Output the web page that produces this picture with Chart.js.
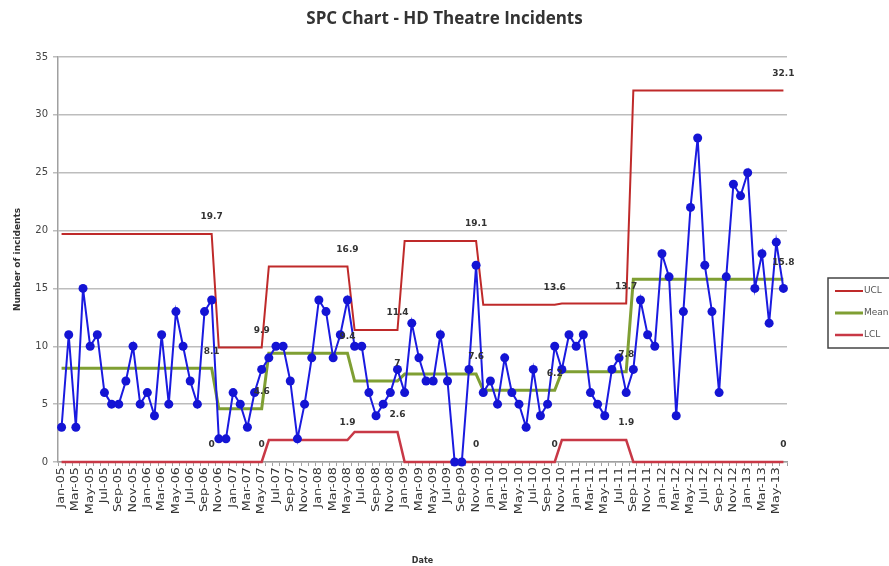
<!DOCTYPE html>
<html>
<head>
<meta charset="utf-8">
<title>SPC Chart - HD Theatre Incidents</title>
<script src="https://cdn.jsdelivr.net/npm/chart.js@4.4.1/dist/chart.umd.min.js"></script>
<style>
  html, body { margin: 0; padding: 0; background: #fff; overflow: hidden; }
  #wrap { width: 889px; height: 566px; position: relative; }
</style>
</head>
<body>
<div id="wrap"><canvas id="spc"></canvas></div>
<script>
// monthly categories
const months = [
  'Jan-05','Feb-05','Mar-05','Apr-05','May-05','Jun-05','Jul-05','Aug-05','Sep-05','Oct-05','Nov-05','Dec-05',
  'Jan-06','Feb-06','Mar-06','Apr-06','May-06','Jun-06','Jul-06','Aug-06','Sep-06','Oct-06','Nov-06','Dec-06',
  'Jan-07','Feb-07','Mar-07','Apr-07','May-07','Jun-07','Jul-07','Aug-07','Sep-07','Oct-07','Nov-07','Dec-07',
  'Jan-08','Feb-08','Mar-08','Apr-08','May-08','Jun-08','Jul-08','Aug-08','Sep-08','Oct-08','Nov-08','Dec-08',
  'Jan-09','Feb-09','Mar-09','Apr-09','May-09','Jun-09','Jul-09','Aug-09','Sep-09','Oct-09','Nov-09','Dec-09',
  'Jan-10','Feb-10','Mar-10','Apr-10','May-10','Jun-10','Jul-10','Aug-10','Sep-10','Oct-10','Nov-10','Dec-10',
  'Jan-11','Feb-11','Mar-11','Apr-11','May-11','Jun-11','Jul-11','Aug-11','Sep-11','Oct-11','Nov-11','Dec-11',
  'Jan-12','Feb-12','Mar-12','Apr-12','May-12','Jun-12','Jul-12','Aug-12','Sep-12','Oct-12','Nov-12','Dec-12',
  'Jan-13','Feb-13','Mar-13','Apr-13','May-13','Jun-13'
];

// incidents per month
const incidents = [
  3, 11, 3, 15, 10, 11, 6, 5, 5, 7, 10, 5,
  6, 4, 11, 5, 13, 10, 7, 5, 13, 14, 2, 2,
  6, 5, 3, 6, 8, 9, 10, 10, 7, 2, 5, 9,
  14, 13, 9, 11, 14, 10, 10, 6, 4, 5, 6, 8,
  6, 12, 9, 7, 7, 11, 7, 0, 0, 8, 17, 6,
  7, 5, 9, 6, 5, 3, 8, 4, 5, 10, 8, 11,
  10, 11, 6, 5, 4, 8, 9, 6, 8, 14, 11, 10,
  18, 16, 4, 13, 22, 28, 17, 13, 6, 16, 24, 23,
  25, 15, 18, 12, 19, 15
];

// control limit phases (index of first month in each phase)
const segStart = [0, 22, 29, 41, 48, 59, 70, 80];
const uclSeg  = [19.7, 9.9, 16.9, 11.4, 19.1, 13.6, 13.7, 32.1];
const meanSeg = [8.1, 4.6, 9.4, 7, 7.6, 6.2, 7.8, 15.8];
const lclSeg  = [0, 0, 1.9, 2.6, 0, 0, 1.9, 0];

const yTicks = [0, 5, 10, 15, 20, 25, 30, 35];

// last month of each phase gets a data label
const segEnd = segStart.slice(1).map(s => s - 1).concat(months.length - 1);

function expand(vals) {
  return months.map((m, i) => {
    let s = 0;
    while (s + 1 < segStart.length && i >= segStart[s + 1]) s++;
    return vals[s];
  });
}

const FONT = '"DejaVu Sans", sans-serif';

// labels on the limit lines
const limitLabels = {
  id: 'limitLabels',
  afterDatasetsDraw(chart) {
    const ctx = chart.ctx;
    ctx.save();
    ctx.font = 'bold 9px ' + FONT;
    ctx.fillStyle = '#333';
    ctx.textAlign = 'center';
    ctx.textBaseline = 'middle';
    [1, 2, 3].forEach(di => {
      const meta = chart.getDatasetMeta(di);
      const vals = chart.data.datasets[di].data;
      segEnd.forEach(i => {
        const pt = meta.data[i];
        ctx.fillText(String(vals[i]), pt.x, pt.y - 17);
      });
    });
    ctx.restore();
  }
};

// vertical month labels, every second month, a bit stretched like the original
const monthTicks = {
  id: 'monthTicks',
  afterDraw(chart) {
    const ctx = chart.ctx;
    const xs = chart.scales.x;
    ctx.save();
    ctx.font = '10px ' + FONT;
    ctx.fillStyle = '#333';
    ctx.textAlign = 'right';
    ctx.textBaseline = 'middle';
    months.forEach((m, i) => {
      if (i % 2) return;
      ctx.save();
      ctx.translate(xs.getPixelForValue(i), xs.top + 5);
      ctx.rotate(-Math.PI / 2);
      ctx.scale(1.28, 1);
      ctx.fillText(m, 0, 0);
      ctx.restore();
    });
    ctx.restore();
  }
};

// title centred on the whole canvas + boxed legend on the right
const decorations = {
  id: 'decorations',
  afterDraw(chart) {
    const ctx = chart.ctx;
    ctx.save();
    ctx.fillStyle = '#333';
    ctx.font = 'bold 17px "Open Sans", sans-serif';
    ctx.textAlign = 'center';
    ctx.textBaseline = 'middle';
    ctx.fillText('SPC Chart - HD Theatre Incidents', chart.width / 2, 19);

    const x0 = 828, y0 = 278;
    ctx.strokeStyle = '#444';
    ctx.lineWidth = 1.5;
    ctx.strokeRect(x0, y0, 90, 70);
    ctx.font = '9px ' + FONT;
    ctx.textAlign = 'left';
    [1, 2, 3].forEach((di, k) => {
      const ds = chart.data.datasets[di];
      const y = y0 + 13 + k * 22;
      ctx.strokeStyle = ds.borderColor;
      ctx.lineWidth = ds.borderWidth;
      ctx.beginPath();
      ctx.moveTo(x0 + 7, y);
      ctx.lineTo(x0 + 35, y);
      ctx.stroke();
      ctx.fillStyle = '#555';
      ctx.fillText(ds.label, x0 + 36, y);
    });
    ctx.restore();
  }
};

const chart = new Chart(document.getElementById('spc'), {
  type: 'line',
  data: {
    labels: months,
    datasets: [
      {
        label: 'Incidents',
        data: incidents,
        borderColor: '#1a1ae0',
        backgroundColor: '#1414d4',
        borderWidth: 2,
        pointRadius: 4.5,
        pointHoverRadius: 4.5,
        pointBorderWidth: 0,
        tension: 0,
        clip: false
      },
      {
        label: 'UCL',
        data: expand(uclSeg),
        borderColor: '#bf2a2a',
        borderWidth: 2,
        pointRadius: 0,
        tension: 0,
        clip: false
      },
      {
        label: 'Mean',
        data: expand(meanSeg),
        borderColor: '#7f9f33',
        borderWidth: 3,
        pointRadius: 0,
        tension: 0,
        clip: false
      },
      {
        label: 'LCL',
        data: expand(lclSeg),
        borderColor: '#c83846',
        borderWidth: 2.5,
        pointRadius: 0,
        tension: 0,
        clip: false
      }
    ]
  },
  options: {
    responsive: true,
    maintainAspectRatio: false,
    animation: false,
    layout: { padding: { left: 6, right: 102, top: 57, bottom: 0 } },
    plugins: {
      legend: { display: false },
      title: { display: false },
      tooltip: { enabled: false }
    },
    scales: {
      x: {
        offset: true,
        grid: { display: true, drawOnChartArea: false, offset: true, tickLength: 4, color: '#a0a0a0' },
        border: { color: '#a0a0a0', width: 1.5 },
        ticks: { display: false, autoSkip: false },
        title: {
          display: true,
          text: 'Date',
          color: '#333',
          font: { family: FONT, size: 8, weight: 'bold' },
          padding: { top: 0, bottom: 0 }
        },
        afterFit: s => { s.height = 104; }
      },
      y: {
        min: 0,
        max: 35,
        afterBuildTicks: s => { s.ticks = yTicks.map(v => ({ value: v })); },
        grid: { color: '#bdbdbd', lineWidth: 1.5, tickLength: 5 },
        border: { color: '#a0a0a0', width: 1.5 },
        ticks: { color: '#444', padding: 5, font: { family: FONT, size: 10 } },
        title: {
          display: true,
          text: 'Number of incidents',
          color: '#333',
          font: { family: FONT, size: 9, weight: 'bold' },
          padding: { top: 6, bottom: 0 }
        },
        afterFit: s => { s.width = 52; }
      }
    }
  },
  plugins: [limitLabels, monthTicks, decorations]
});
</script>
</body>
</html>
